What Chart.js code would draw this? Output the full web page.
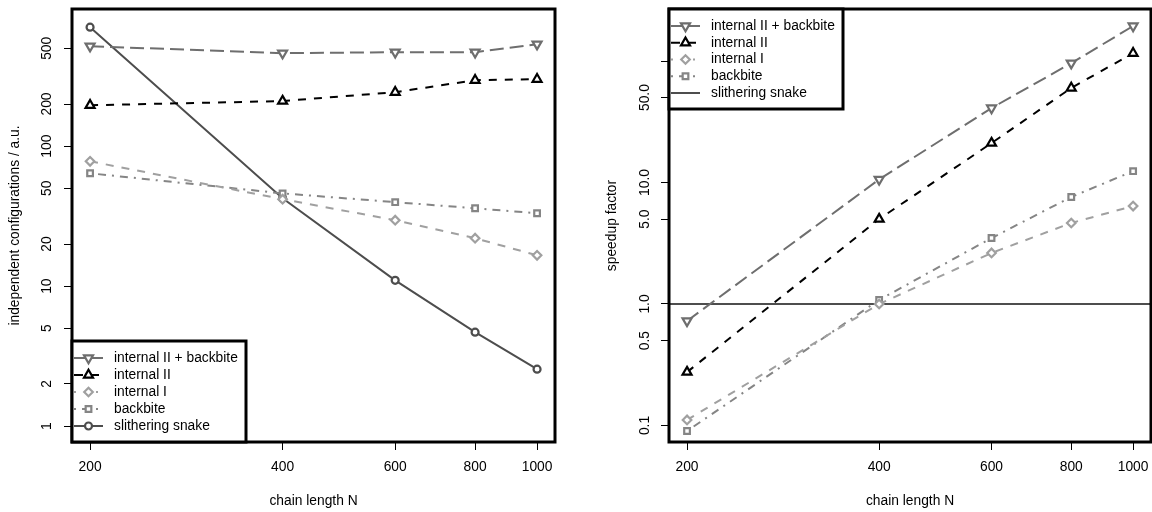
<!DOCTYPE html>
<html>
<head>
<meta charset="utf-8">
<script src="https://cdn.jsdelivr.net/npm/chart.js@4.4.1/dist/chart.umd.min.js"></script>
<style>
  html, body { margin: 0; padding: 0; background: #fff; }
  .row { display: flex; width: 1152px; height: 512px; }
  canvas { display: block; }
</style>
</head>
<body>
<div class="row">
  <canvas id="left-chart" width="576" height="512"></canvas>
  <canvas id="right-chart" width="576" height="512"></canvas>
</div>
<script>
var chainLength = [200, 400, 600, 800, 1000];
var xTicks = [200, 400, 600, 800, 1000];
var xTickLabels = ['200', '400', '600', '800', '1000'];

// left panel: independent configurations / a.u.
var cfgInternal2Backbite = [518, 462, 469, 469, 535];
var cfgInternal2 = [196, 210, 243, 296, 301];
var cfgInternal1 = [78, 41.8, 29.6, 22, 16.6];
var cfgBackbite = [64, 46, 39.8, 36, 33.2];
var cfgSnake = [708, 42.5, 11.0, 4.69, 2.55];
var leftYTicks = [1, 2, 5, 10, 20, 50, 100, 200, 500];
var leftYTickLabels = ['1', '2', '5', '10', '20', '50', '100', '200', '500'];

// right panel: speedup factor (snake is the reference, drawn as a level line)
var spInternal2Backbite = [0.725, 10.6, 41, 96, 194];
var spInternal2 = [0.275, 5.0, 21.1, 60, 116];
var spInternal1 = [0.111, 1.0, 2.63, 4.64, 6.4];
var spBackbite = [0.090, 1.08, 3.49, 7.6, 12.4];
var spSnake = [1, 1, 1, 1, 1];
var rightYTicks = [0.1, 0.5, 1, 5, 10, 50, 100];
var rightYTickLabels = ['0.1', '0.5', '1.0', '5.0', '10.0', '50.0', ''];

var seriesLabels = ['internal II + backbite', 'internal II', 'internal I', 'backbite', 'slithering snake'];

(function () {
  var FONT = '13.8px "Liberation Sans", Arial, sans-serif';
  var TEXT = '#000';

  var styles = [
    { color: '#6e6e6e', dash: [14, 6], legendDash: [12, 5], pointStyle: 'triangle', rotation: 180, radius: 5.2 },
    { color: '#000000', dash: [8, 8], legendDash: [9, 7], pointStyle: 'triangle', rotation: 0, radius: 5.2 },
    { color: '#a0a0a0', dash: [8, 8], legendDash: [2, 9], pointStyle: 'rectRot', rotation: 0, radius: 4.3 },
    { color: '#858585', dash: [2, 6, 8, 6], legendDash: [2, 6, 8, 6], pointStyle: 'rect', rotation: 0, radius: 4 },
    { color: '#4d4d4d', dash: [], legendDash: [], pointStyle: 'circle', rotation: 0, radius: 3.5 }
  ];

  function points(values) {
    return chainLength.map(function (n, i) { return { x: n, y: values[i] }; });
  }

  function dataset(i, values) {
    var s = styles[i];
    return {
      label: seriesLabels[i],
      data: points(values),
      borderColor: s.color,
      backgroundColor: s.color,
      borderWidth: 2,
      borderDash: s.dash,
      tension: 0,
      fill: false,
      pointStyle: s.pointStyle,
      pointRotation: s.rotation,
      pointRadius: s.radius,
      pointHoverRadius: s.radius,
      pointBorderColor: s.color,
      pointBackgroundColor: '#ffffff',
      pointBorderWidth: 2.2
    };
  }

  function markPoint(ctx, s, x, y) {
    ctx.save();
    ctx.setLineDash([]);
    ctx.fillStyle = '#ffffff';
    ctx.strokeStyle = s.color;
    ctx.lineWidth = 2.2;
    Chart.helpers.drawPoint(ctx, { pointStyle: s.pointStyle, rotation: s.rotation, radius: s.radius, borderWidth: 2.2 }, x, y);
    ctx.restore();
  }

  function drawLegend(ctx, area, legend) {
    var w = 174;
    var x = area.left;
    var y = legend.anchor === 'bottom' ? area.bottom - legend.height : area.top;
    ctx.fillStyle = '#ffffff';
    ctx.fillRect(x, y, w, legend.height);
    ctx.lineWidth = 3;
    ctx.strokeStyle = '#000';
    ctx.strokeRect(x, y, w, legend.height);

    seriesLabels.forEach(function (label, i) {
      var s = styles[i];
      var ry = y + legend.rowStart + i * legend.rowStep;
      ctx.save();
      ctx.strokeStyle = s.color;
      ctx.lineWidth = 2;
      ctx.setLineDash(s.legendDash);
      ctx.beginPath();
      ctx.moveTo(x + 2, ry);
      ctx.lineTo(x + 31, ry);
      ctx.stroke();
      ctx.restore();
      if (legend.points[i]) markPoint(ctx, s, x + 16.5, ry);
      ctx.fillStyle = TEXT;
      ctx.font = FONT;
      ctx.textAlign = 'left';
      ctx.textBaseline = 'middle';
      ctx.fillText(label, x + 42, ry);
    });
  }

  var panelDecor = {
    id: 'panelDecor',
    beforeDatasetsDraw: function (chart, args, opts) {
      // level reference line (abline) across the whole plot
      if (!opts.levelLine) return;
      var ctx = chart.ctx;
      var area = chart.chartArea;
      var py = chart.scales.y.getPixelForValue(opts.levelLine[0]);
      ctx.save();
      ctx.strokeStyle = styles[4].color;
      ctx.lineWidth = 2;
      ctx.beginPath();
      ctx.moveTo(area.left, py);
      ctx.lineTo(area.right, py);
      ctx.stroke();
      ctx.restore();
    },
    afterDraw: function (chart, args, opts) {
      var ctx = chart.ctx;
      var area = chart.chartArea;
      var yScale = chart.scales.y;
      ctx.save();
      ctx.font = FONT;
      ctx.fillStyle = TEXT;
      ctx.textAlign = 'center';
      ctx.textBaseline = 'middle';

      yScale.ticks.forEach(function (tick, i) {
        var label = opts.tickLabels[i];
        if (!label) return;
        ctx.save();
        ctx.translate(opts.tickLabelX, yScale.getPixelForValue(tick.value));
        ctx.rotate(-Math.PI / 2);
        ctx.fillText(label, 0, 0);
        ctx.restore();
      });

      ctx.save();
      ctx.translate(opts.titleX, (area.top + area.bottom) / 2);
      ctx.rotate(-Math.PI / 2);
      ctx.fillText(opts.yTitle, 0, 0);
      ctx.restore();

      ctx.fillText('chain length N', (area.left + area.right) / 2, 501);

      ctx.lineWidth = 3;
      ctx.strokeStyle = '#000';
      ctx.strokeRect(area.left, area.top, area.right - area.left, area.bottom - area.top);

      drawLegend(ctx, area, opts.legend);
      ctx.restore();
    }
  };

  function makeChart(id, cfg) {
    return new Chart(document.getElementById(id), {
      type: 'line',
      data: { datasets: cfg.datasets },
      plugins: [panelDecor],
      options: {
        responsive: false,
        animation: false,
        devicePixelRatio: 1,
        layout: { autoPadding: false, padding: { top: 9, right: cfg.padRight, left: 0, bottom: 0 } },
        plugins: {
          legend: { display: false },
          tooltip: { enabled: false },
          panelDecor: {
            tickLabels: cfg.yTickLabels,
            tickLabelX: cfg.tickLabelX,
            titleX: cfg.titleX,
            yTitle: cfg.yTitle,
            legend: cfg.legend,
            levelLine: cfg.levelLine || null
          }
        },
        scales: {
          x: {
            type: 'logarithmic',
            min: 187.4,
            max: 1066.7,
            bounds: 'data',
            afterBuildTicks: function (scale) {
              scale.ticks = xTicks.map(function (v) { return { value: v }; });
            },
            afterFit: function (scale) {
              scale.height = 70;
              scale.paddingLeft = 0;
              scale.paddingRight = 0;
            },
            grid: { display: true, drawOnChartArea: false, drawTicks: true, tickLength: 8, color: '#000', lineWidth: 1 },
            border: { display: false },
            ticks: {
              autoSkip: false,
              maxRotation: 0,
              minRotation: 0,
              padding: 9,
              color: TEXT,
              font: { family: '"Liberation Sans", Arial, sans-serif', size: 13.8 },
              callback: function (value, index) { return xTickLabels[index]; }
            }
          },
          y: {
            type: 'logarithmic',
            min: cfg.yMin,
            max: cfg.yMax,
            bounds: 'data',
            afterBuildTicks: function (scale) {
              scale.ticks = cfg.yTicks.map(function (v) { return { value: v }; });
            },
            afterFit: function (scale) {
              scale.width = cfg.yWidth;
            },
            grid: { display: true, drawOnChartArea: false, drawTicks: true, tickLength: 8, color: '#000', lineWidth: 1 },
            border: { display: false },
            ticks: { display: false }
          }
        }
      }
    });
  }

  makeChart('left-chart', {
    datasets: [
      dataset(0, cfgInternal2Backbite),
      dataset(1, cfgInternal2),
      dataset(2, cfgInternal1),
      dataset(3, cfgBackbite),
      dataset(4, cfgSnake)
    ],
    padRight: 21,
    yWidth: 72,
    yMin: 0.77,
    yMax: 955,
    yTicks: leftYTicks,
    yTickLabels: leftYTickLabels,
    tickLabelX: 47,
    titleX: 15,
    yTitle: 'independent configurations / a.u.',
    legend: { anchor: 'bottom', height: 101, rowStart: 17, rowStep: 17, points: [true, true, true, true, true] }
  });

  makeChart('right-chart', {
    datasets: [
      dataset(0, spInternal2Backbite),
      dataset(1, spInternal2),
      dataset(2, spInternal1),
      dataset(3, spBackbite)
    ],
    levelLine: spSnake,
    padRight: 1,
    yWidth: 93,
    yMin: 0.0731,
    yMax: 268,
    yTicks: rightYTicks,
    yTickLabels: rightYTickLabels,
    tickLabelX: 69,
    titleX: 36,
    yTitle: 'speedup factor',
    legend: { anchor: 'top', height: 100, rowStart: 17, rowStep: 16.75, points: [true, true, true, true, false] }
  });
})();
</script>
</body>
</html>
